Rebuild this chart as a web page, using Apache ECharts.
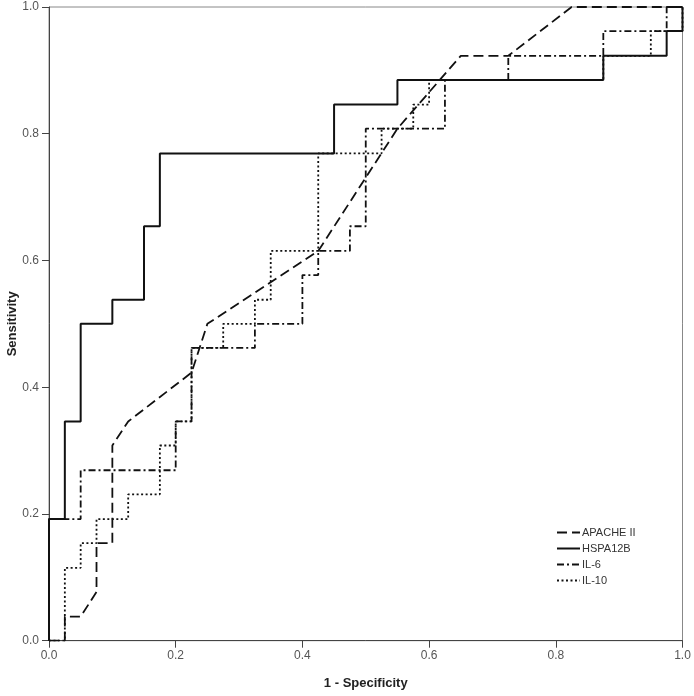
<!DOCTYPE html>
<html>
<head>
<meta charset="utf-8">
<script src="https://cdn.jsdelivr.net/npm/echarts@6/dist/echarts.min.js"></script>
<style>
html,body{margin:0;padding:0;background:#fff;}
#chart{width:694px;height:696px;}
</style>
</head>
<body>
<div id="chart"></div>
<script>
// Tick labels
var xTicks = [0, 0.2, 0.4, 0.6, 0.8, 1.0];
var yTicks = [0, 0.2, 0.4, 0.6, 0.8, 1.0];
var seriesNames = ['APACHE II', 'HSPA12B', 'IL-6', 'IL-10'];

// ROC points [1 - specificity, sensitivity]
var apacheII = [
  [0,0],[0.025,0],[0.025,0.038],[0.05,0.038],[0.075,0.077],[0.075,0.154],[0.1,0.154],
  [0.1,0.308],[0.125,0.346],[0.225,0.423],[0.25,0.5],[0.425,0.615],[0.55,0.808],
  [0.65,0.923],[0.725,0.923],[0.825,1],[1,1]
];
var hspa12b = [
  [0,0],[0,0.192],[0.025,0.192],[0.025,0.346],[0.05,0.346],[0.05,0.5],[0.1,0.5],
  [0.1,0.538],[0.15,0.538],[0.15,0.654],[0.175,0.654],[0.175,0.769],[0.45,0.769],
  [0.45,0.846],[0.55,0.846],[0.55,0.885],[0.875,0.885],[0.875,0.923],[0.975,0.923],
  [0.975,0.962],[1,0.962],[1,1]
];
var il6 = [
  [0,0],[0,0.192],[0.05,0.192],[0.05,0.269],[0.2,0.269],[0.2,0.346],[0.225,0.346],
  [0.225,0.462],[0.325,0.462],[0.325,0.5],[0.4,0.5],[0.4,0.577],[0.425,0.577],
  [0.425,0.615],[0.475,0.615],[0.475,0.654],[0.5,0.654],[0.5,0.808],[0.625,0.808],
  [0.625,0.885],[0.725,0.885],[0.725,0.923],[0.875,0.923],[0.875,0.962],[0.975,0.962],
  [0.975,1],[1,1]
];
var il10 = [
  [0,0],[0.025,0],[0.025,0.115],[0.05,0.115],[0.05,0.154],[0.075,0.154],[0.075,0.192],
  [0.125,0.192],[0.125,0.231],[0.175,0.231],[0.175,0.308],[0.2,0.308],[0.2,0.346],
  [0.225,0.346],[0.225,0.462],[0.275,0.462],[0.275,0.5],[0.325,0.5],[0.325,0.538],
  [0.35,0.538],[0.35,0.615],[0.425,0.615],[0.425,0.769],[0.525,0.769],[0.525,0.808],
  [0.575,0.808],[0.575,0.846],[0.6,0.846],[0.6,0.885],[0.875,0.885],[0.875,0.923],
  [0.95,0.923],[0.95,0.962],[1,0.962],[1,1]
];

var seriesData = [apacheII, hspa12b, il6, il10];
var dashes = [[10,5], 'solid', [7,3,2,3], [2,2.5]];
var widths = [1.8, 2, 1.8, 1.8];

var chart = echarts.init(document.getElementById('chart'), null, {renderer:'canvas'});
var font = 'Liberation Sans, Arial, sans-serif';

var axisCommon = function(ticks, name, isY){
  return {
    type:'value', min:0, max:1, interval:0.2,
    name:name, nameLocation:'middle', nameGap: isY ? 30 : 36, nameMoveOverlap:false,
    nameTextStyle:{fontFamily:font, fontSize:13, fontWeight:'bold', color:'#222'},
    axisLine:{show:true, lineStyle:{color:'#444', width:1}},
    axisTick:{show:true, inside:false, length:7, lineStyle:{color:'#444', width:1}},
    axisLabel:{show:true, margin: isY ? 10 : 9, fontFamily:font, fontSize:12, color:'#555',
      formatter:function(v){ return v.toFixed(1); }},
    splitLine:{show:false}
  };
};

chart.setOption({
  animation:false,
  backgroundColor:'#fff',
  grid:{left:49, right:11.5, top:7, bottom:55.3, show:true, borderColor:'#888', borderWidth:1,
    containLabel:false, outerBoundsMode:'none'},
  xAxis: axisCommon(xTicks, '1 - Specificity', false),
  yAxis: axisCommon(yTicks, 'Sensitivity', true),
  legend:{
    orient:'vertical', left:556, top:527, padding:0,
    itemWidth:23, itemHeight:11, itemGap:5,
    itemStyle:{color:'rgba(0,0,0,0)', borderWidth:0, opacity:0},
    textStyle:{fontFamily:font, fontSize:11, color:'#333', padding:[0,0,0,-3]},
    data:seriesNames
  },
  series: seriesNames.map(function(n,i){
    return {
      name:n, type:'line', data:seriesData[i], symbol:'none', showSymbol:false,
      lineStyle:{color:'#111', width:widths[i], type:dashes[i]},
      itemStyle:{color:'#111'},
      z: 4-i
    };
  })
});
</script>
</body>
</html>
